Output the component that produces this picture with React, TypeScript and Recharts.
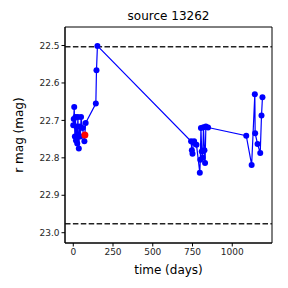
import { ComposedChart, Line, Scatter, XAxis, YAxis, ReferenceLine, ReferenceArea } from 'recharts'

const days = [0, 3, 6, 10, 14, 17, 20, 25, 29, 35, 41, 45, 49, 58, 70, 78, 142, 146, 152, 741, 746, 750, 755, 760, 775, 796, 799, 803, 808, 814, 819, 825, 829, 834, 848, 1088, 1122, 1142, 1144, 1159, 1176, 1184, 1190]
const mags = [22.713, 22.696, 22.664, 22.743, 22.691, 22.754, 22.716, 22.762, 22.691, 22.775, 22.716, 22.743, 22.691, 22.72, 22.756, 22.707, 22.655, 22.566, 22.501, 22.756, 22.78, 22.789, 22.76, 22.756, 22.765, 22.84, 22.805, 22.72, 22.783, 22.8, 22.718, 22.78, 22.814, 22.716, 22.719, 22.741, 22.819, 22.63, 22.734, 22.763, 22.787, 22.687, 22.638]
const highlightDay = [73]
const highlightMag = [22.739]
const limits = [22.503, 22.976]
const xTicks = [0, 250, 500, 750, 1000]
const yTicks = [22.5, 22.6, 22.7, 22.8, 22.9, 23.0]
const xDomain = [-52, 1250]
const yDomain = [22.4505, 23.0275]

const data = days.map((d, i) => ({ t: d, mag: mags[i] }))
const highlight = highlightDay.map((d, i) => ({ t: d, mag: highlightMag[i] }))

const font = 'DejaVu Sans, sans-serif'
const tickStyle = { fill: '#262626', fontSize: 9, fontFamily: font }

export default function App() {
  return (
    <div style={{ position: 'absolute', top: 0, left: 0, width: 288, height: 288, background: '#fff', fontFamily: font }}>
      <div style={{ position: 'absolute', top: 9, left: 65, width: 207, textAlign: 'center', fontSize: 12, color: '#000', lineHeight: '14px' }}>source 13262</div>
      <ComposedChart width={288} height={288} margin={{ top: 27, right: 16, left: 0, bottom: 0 }}>
        <XAxis dataKey="t" type="number" domain={xDomain} ticks={xTicks} allowDataOverflow
          tick={tickStyle} tickSize={3.5} tickLine={{ stroke: '#000' }} axisLine={{ stroke: '#000' }} height={45}
          label={{ value: 'time (days)', position: 'insideBottom', offset: 14, style: { fontSize: 12, fill: '#000', fontFamily: font } }} />
        <YAxis dataKey="mag" type="number" reversed domain={yDomain} ticks={yTicks} allowDataOverflow
          tickFormatter={(v: number) => v.toFixed(1)} tick={tickStyle} tickSize={3.5} tickLine={{ stroke: '#000' }} axisLine={{ stroke: '#000' }} width={65}
          label={{ value: 'r mag (mag)', angle: -90, position: 'insideLeft', offset: 19, style: { fontSize: 12, fill: '#000', fontFamily: font, textAnchor: 'middle' } }} />
        <ReferenceArea x1={xDomain[0]} x2={xDomain[1]} y1={yDomain[0]} y2={yDomain[1]} fill="none" fillOpacity={0} stroke="#000" strokeWidth={1} ifOverflow="extendDomain" />
        {limits.map(v => (
          <ReferenceLine key={v} y={v} stroke="#222" strokeWidth={1.5} strokeDasharray="5.5 2.4" />
        ))}
        <Line data={data} dataKey="mag" type="linear" stroke="#0000ff" strokeWidth={1.2} dot={{ r: 3, fill: '#0000ff', stroke: '#0000ff', strokeWidth: 0 }} isAnimationActive={false} />
        <Scatter data={highlight} dataKey="mag" fill="#ff0000" shape={(p: any) => <circle cx={p.cx} cy={p.cy} r={3.5} fill="#ff0000" />} isAnimationActive={false} />
      </ComposedChart>
    </div>
  )
}
